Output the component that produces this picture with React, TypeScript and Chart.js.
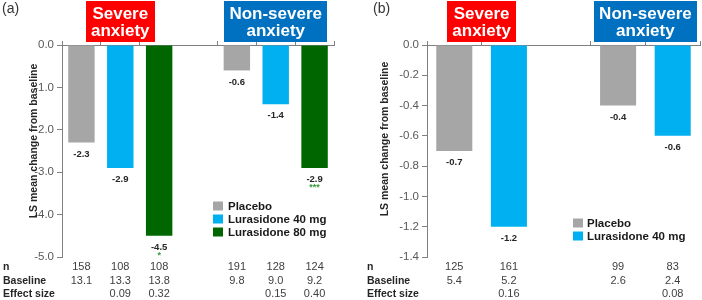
import React, { useEffect, useRef } from 'react';
import { Chart, registerables } from 'chart.js';

Chart.register(...registerables);

const FONT = "'Liberation Sans', Arial, sans-serif";
const AXIS_GRAY = '#808080';

// Series colours
const PLACEBO_COLOR = '#A6A6A6';
const LURA40_COLOR = '#00B0F0';
const LURA80_COLOR = '#006600';
const SIG_COLOR = '#3C9A3C';

// Group header boxes
const GROUP_LINES = [['Severe', 'anxiety'], ['Non-severe', 'anxiety']];
const GROUP_COLORS = ['#FF0000', '#0070C0'];

const SERIES_LABELS = ['Placebo', 'Lurasidone 40 mg', 'Lurasidone 80 mg'];
const TABLE_ROW_LABELS = ['n', 'Baseline', 'Effect size'];
const Y_TITLE = 'LS mean change from baseline';

// ---------- Panel (a) ----------
const A_PLACEBO = [-2.3, -0.6];
const A_LURA40 = [-2.9, -1.4];
const A_LURA80 = [-4.5, -2.9];
const A_LURA80_SIG = ['*', '***'];
const A_N = ['158', '108', '108', '191', '128', '124'];
const A_BASELINE = ['13.1', '13.3', '13.8', '9.8', '9.0', '9.2'];
const A_EFFECT = ['', '0.09', '0.32', '', '0.15', '0.40'];
const A_Y_MIN = -5;
const A_Y_MAX = 0;
const A_Y_STEP = 1;

// ---------- Panel (b) ----------
const B_PLACEBO = [-0.7, -0.4];
const B_LURA40 = [-1.2, -0.6];
const B_N = ['125', '161', '99', '83'];
const B_BASELINE = ['5.4', '5.2', '2.6', '2.4'];
const B_EFFECT = ['', '0.16', '', '0.08'];
const B_Y_MIN = -1.4;
const B_Y_MAX = 0;
const B_Y_STEP = 0.2;

type Series = { label: string; color: string; values: number[]; sig?: string[] };

type PanelSpec = {
  tag: string;
  series: Series[];
  yMin: number;
  yMax: number;
  yStep: number;
  table: string[][];
  width: number;
  area: { left: number; right: number; top: number; bottom: number };
  barPct: number;
  tagPos: [number, number];
  yTitlePos: [number, number];
  legend: { x: number; textX: number; rows: number[] };
  rowLabelX: number;
  tableRows: number[];
};

const PANEL_A: PanelSpec = {
  tag: '(a)',
  series: [
    { label: SERIES_LABELS[0], color: PLACEBO_COLOR, values: A_PLACEBO },
    { label: SERIES_LABELS[1], color: LURA40_COLOR, values: A_LURA40 },
    { label: SERIES_LABELS[2], color: LURA80_COLOR, values: A_LURA80, sig: A_LURA80_SIG },
  ],
  yMin: A_Y_MIN,
  yMax: A_Y_MAX,
  yStep: A_Y_STEP,
  table: [A_N, A_BASELINE, A_EFFECT],
  width: 350,
  area: { left: 62, right: 334, top: 45, bottom: 257 },
  barPct: 0.68,
  tagPos: [2, 9],
  yTitlePos: [34, 141],
  legend: { x: 213, textX: 228, rows: [206, 219, 232] },
  rowLabelX: 3,
  tableRows: [267, 281, 294],
};

const PANEL_B: PanelSpec = {
  tag: '(b)',
  series: [
    { label: SERIES_LABELS[0], color: PLACEBO_COLOR, values: B_PLACEBO },
    { label: SERIES_LABELS[1], color: LURA40_COLOR, values: B_LURA40 },
  ],
  yMin: B_Y_MIN,
  yMax: B_Y_MAX,
  yStep: B_Y_STEP,
  table: [B_N, B_BASELINE, B_EFFECT],
  width: 352,
  area: { left: 77, right: 350, top: 45, bottom: 257 },
  barPct: 0.66,
  tagPos: [23, 9],
  yTitlePos: [35, 139],
  legend: { x: 223, textX: 237, rows: [223, 236] },
  rowLabelX: 17,
  tableRows: [267, 281, 294],
};

function fmt1(v: number) {
  const r = Math.abs(v) < 1e-9 ? 0 : v;
  return r.toFixed(1);
}

function buildChart(canvas: HTMLCanvasElement, spec: PanelSpec) {
  const k = spec.series.length;
  const nGroups = 2;
  const slots = nGroups * k + (nGroups - 1);
  const slotIndex = (g: number, s: number) => g * (k + 1) + s;
  const barSlots: number[] = [];
  for (let g = 0; g < nGroups; g++) for (let s = 0; s < k; s++) barSlots.push(slotIndex(g, s));

  const labels: string[] = Array(slots).fill('');
  for (let g = 0; g < nGroups; g++)
    for (let s = 0; s < k; s++) labels[slotIndex(g, s)] = GROUP_LINES[g].join(' ') + ' – ' + spec.series[s].label;

  const datasets = spec.series.map((se, s) => {
    const data: (number | null)[] = Array(slots).fill(null);
    for (let g = 0; g < nGroups; g++) data[slotIndex(g, s)] = se.values[g];
    return {
      label: se.label,
      data,
      backgroundColor: se.color,
      borderWidth: 0,
      grouped: false,
      categoryPercentage: 1,
      barPercentage: spec.barPct,
    };
  });

  const hiddenTickIdx = k; // boundary before the gap slot

  const decor = {
    id: 'decor',
    afterDraw(chart: any) {
      const ctx = chart.ctx as CanvasRenderingContext2D;
      const xs = chart.scales.x;
      ctx.save();

      // panel tag
      ctx.fillStyle = '#333333';
      ctx.font = `14px ${FONT}`;
      ctx.textAlign = 'left';
      ctx.textBaseline = 'middle';
      ctx.fillText(spec.tag, spec.tagPos[0], spec.tagPos[1]);

      // y axis title
      ctx.save();
      ctx.translate(spec.yTitlePos[0], spec.yTitlePos[1]);
      ctx.rotate(-Math.PI / 2);
      ctx.font = `bold 10.5px ${FONT}`;
      ctx.fillStyle = '#262626';
      ctx.textAlign = 'center';
      ctx.textBaseline = 'middle';
      ctx.fillText(Y_TITLE, 0, 0);
      ctx.restore();

      // group header boxes
      ctx.font = `bold 17px ${FONT}`;
      for (let g = 0; g < nGroups; g++) {
        const cx = (xs.getPixelForValue(slotIndex(g, 0)) + xs.getPixelForValue(slotIndex(g, k - 1))) / 2;
        const lines = GROUP_LINES[g];
        const w = Math.max(...lines.map((l) => ctx.measureText(l).width)) + 10;
        ctx.fillStyle = GROUP_COLORS[g];
        ctx.fillRect(Math.round(cx - w / 2), 1, Math.round(w), 41);
        ctx.fillStyle = '#FFFFFF';
        ctx.textAlign = 'center';
        ctx.textBaseline = 'middle';
        ctx.fillText(lines[0], cx, 14);
        ctx.fillText(lines[1], cx, 31);
      }

      // value labels and significance marks
      chart.data.datasets.forEach((ds: any, di: number) => {
        const meta = chart.getDatasetMeta(di);
        const se = spec.series[di];
        meta.data.forEach((el: any, i: number) => {
          const v = ds.data[i];
          if (v === null || v === undefined) return;
          ctx.font = `bold 9.5px ${FONT}`;
          ctx.fillStyle = '#262626';
          ctx.textAlign = 'center';
          ctx.textBaseline = 'middle';
          ctx.fillText(fmt1(v), el.x, el.y + 11.5);
          if (se.sig) {
            const g = Math.floor(i / (k + 1));
            const mark = se.sig[g];
            if (mark) {
              ctx.font = `bold 9px ${FONT}`;
              ctx.fillStyle = SIG_COLOR;
              ctx.fillText(mark, el.x, el.y + 20);
            }
          }
        });
      });

      // legend
      spec.series.forEach((se, s) => {
        const y = spec.legend.rows[s];
        ctx.fillStyle = se.color;
        ctx.fillRect(spec.legend.x, y - 4.5, 10, 9);
        ctx.fillStyle = '#1A1A1A';
        ctx.font = `bold 11.5px ${FONT}`;
        ctx.textAlign = 'left';
        ctx.textBaseline = 'middle';
        ctx.fillText(se.label, spec.legend.textX, y + 0.5);
      });

      // table under the chart
      TABLE_ROW_LABELS.forEach((lab, r) => {
        const y = spec.tableRows[r];
        ctx.fillStyle = '#262626';
        ctx.font = `bold 10.5px ${FONT}`;
        ctx.textAlign = 'left';
        ctx.textBaseline = 'middle';
        ctx.fillText(lab, spec.rowLabelX, y);
        ctx.fillStyle = '#404040';
        ctx.font = `11px ${FONT}`;
        ctx.textAlign = 'center';
        spec.table[r].forEach((val, j) => {
          if (!val) return;
          ctx.fillText(val, xs.getPixelForValue(barSlots[j]), y);
        });
      });

      ctx.restore();
    },
  };

  return new Chart(canvas, {
    type: 'bar',
    data: { labels, datasets: datasets as any },
    plugins: [decor],
    options: {
      responsive: false,
      animation: false,
      devicePixelRatio: 1,
      layout: {
        padding: {
          left: 0,
          top: 0,
          right: spec.width - spec.area.right,
          bottom: 300 - spec.area.bottom,
        },
      },
      plugins: {
        legend: { display: false },
        tooltip: { enabled: false },
        title: { display: false },
      },
      scales: {
        x: {
          type: 'category',
          position: 'top',
          offset: true,
          grid: {
            offset: true,
            drawOnChartArea: false,
            drawTicks: true,
            tickLength: 4,
            tickColor: (c: any) => (c.index === hiddenTickIdx ? 'rgba(0,0,0,0)' : AXIS_GRAY),
          },
          border: { display: true, color: AXIS_GRAY, width: 1 },
          ticks: { display: false },
          afterFit: (scale: any) => {
            scale.height = spec.area.top;
          },
        },
        y: {
          type: 'linear',
          min: spec.yMin,
          max: spec.yMax,
          ticks: {
            stepSize: spec.yStep,
            color: '#595959',
            font: { family: FONT, size: 11.5 },
            padding: 3,
            callback: (v: any) => fmt1(Number(v)),
          },
          grid: {
            drawOnChartArea: false,
            drawTicks: true,
            tickLength: 5,
            tickColor: AXIS_GRAY,
          },
          border: { display: true, color: AXIS_GRAY, width: 1 },
          afterFit: (scale: any) => {
            scale.width = spec.area.left;
          },
        },
      },
    } as any,
  });
}

function Panel({ spec, left }: { spec: PanelSpec; left: number }) {
  const ref = useRef<HTMLCanvasElement | null>(null);
  useEffect(() => {
    if (!ref.current) return;
    const chart = buildChart(ref.current, spec);
    return () => chart.destroy();
  }, [spec]);
  return (
    <canvas
      ref={ref}
      width={spec.width}
      height={300}
      style={{ position: 'absolute', left, top: 0, width: spec.width, height: 300 }}
    />
  );
}

export default function App() {
  return (
    <div
      style={{
        position: 'absolute',
        left: 0,
        top: 0,
        width: 702,
        height: 300,
        background: '#FFFFFF',
        overflow: 'hidden',
      }}
    >
      <Panel spec={PANEL_A} left={0} />
      <Panel spec={PANEL_B} left={350} />
    </div>
  );
}
